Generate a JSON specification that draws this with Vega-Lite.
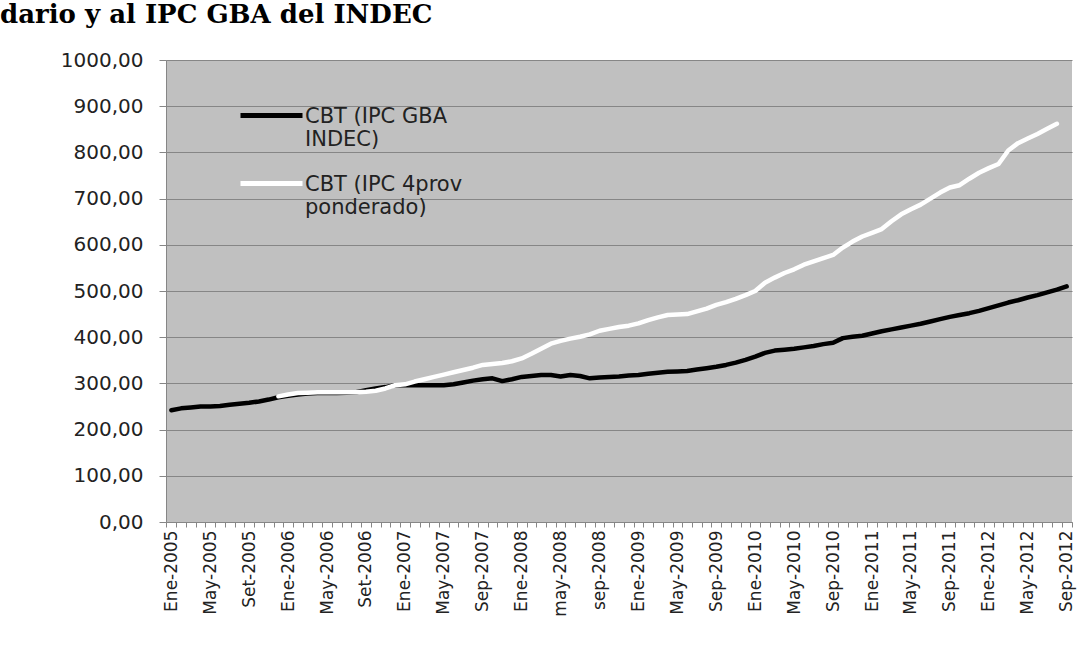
{
  "$schema": "https://vega.github.io/schema/vega-lite/v6.json",
  "width": 906,
  "height": 462,
  "autosize": {"type": "none"},
  "padding": {"left": 166, "top": 60, "right": 8, "bottom": 143},
  "background": "white",
  "title": {
    "text": "dario y al IPC GBA del INDEC",
    "anchor": "start",
    "frame": "group",
    "dx": -166,
    "offset": 22,
    "font": "DejaVu Serif",
    "fontSize": 26,
    "fontWeight": "bold",
    "color": "black"
  },
  "data": {
    "values": [
      {"m": "Ene-2005", "CBT (IPC GBA INDEC)": 242, "CBT (IPC 4prov ponderado)": null},
      {"m": "Feb-2005", "CBT (IPC GBA INDEC)": 246, "CBT (IPC 4prov ponderado)": null},
      {"m": "Mar-2005", "CBT (IPC GBA INDEC)": 248, "CBT (IPC 4prov ponderado)": null},
      {"m": "Abr-2005", "CBT (IPC GBA INDEC)": 250, "CBT (IPC 4prov ponderado)": null},
      {"m": "May-2005", "CBT (IPC GBA INDEC)": 250, "CBT (IPC 4prov ponderado)": null},
      {"m": "Jun-2005", "CBT (IPC GBA INDEC)": 251, "CBT (IPC 4prov ponderado)": null},
      {"m": "Jul-2005", "CBT (IPC GBA INDEC)": 254, "CBT (IPC 4prov ponderado)": null},
      {"m": "Ago-2005", "CBT (IPC GBA INDEC)": 256, "CBT (IPC 4prov ponderado)": null},
      {"m": "Set-2005", "CBT (IPC GBA INDEC)": 258, "CBT (IPC 4prov ponderado)": null},
      {"m": "Oct-2005", "CBT (IPC GBA INDEC)": 261, "CBT (IPC 4prov ponderado)": null},
      {"m": "Nov-2005", "CBT (IPC GBA INDEC)": 265, "CBT (IPC 4prov ponderado)": null},
      {"m": "Dic-2005", "CBT (IPC GBA INDEC)": 270, "CBT (IPC 4prov ponderado)": 272},
      {"m": "Ene-2006", "CBT (IPC GBA INDEC)": 273, "CBT (IPC 4prov ponderado)": 276},
      {"m": "Feb-2006", "CBT (IPC GBA INDEC)": 276, "CBT (IPC 4prov ponderado)": 279},
      {"m": "Mar-2006", "CBT (IPC GBA INDEC)": 278, "CBT (IPC 4prov ponderado)": 280},
      {"m": "Abr-2006", "CBT (IPC GBA INDEC)": 279, "CBT (IPC 4prov ponderado)": 281},
      {"m": "May-2006", "CBT (IPC GBA INDEC)": 279, "CBT (IPC 4prov ponderado)": 281},
      {"m": "Jun-2006", "CBT (IPC GBA INDEC)": 279, "CBT (IPC 4prov ponderado)": 281},
      {"m": "Jul-2006", "CBT (IPC GBA INDEC)": 280, "CBT (IPC 4prov ponderado)": 281},
      {"m": "Ago-2006", "CBT (IPC GBA INDEC)": 281, "CBT (IPC 4prov ponderado)": 281},
      {"m": "Set-2006", "CBT (IPC GBA INDEC)": 285, "CBT (IPC 4prov ponderado)": 282},
      {"m": "Oct-2006", "CBT (IPC GBA INDEC)": 289, "CBT (IPC 4prov ponderado)": 284},
      {"m": "Nov-2006", "CBT (IPC GBA INDEC)": 292, "CBT (IPC 4prov ponderado)": 289},
      {"m": "Dic-2006", "CBT (IPC GBA INDEC)": 296, "CBT (IPC 4prov ponderado)": 296},
      {"m": "Ene-2007", "CBT (IPC GBA INDEC)": 296, "CBT (IPC 4prov ponderado)": 298},
      {"m": "Feb-2007", "CBT (IPC GBA INDEC)": 296, "CBT (IPC 4prov ponderado)": 304},
      {"m": "Mar-2007", "CBT (IPC GBA INDEC)": 296, "CBT (IPC 4prov ponderado)": 309},
      {"m": "Abr-2007", "CBT (IPC GBA INDEC)": 296, "CBT (IPC 4prov ponderado)": 314},
      {"m": "May-2007", "CBT (IPC GBA INDEC)": 296, "CBT (IPC 4prov ponderado)": 319},
      {"m": "Jun-2007", "CBT (IPC GBA INDEC)": 298, "CBT (IPC 4prov ponderado)": 324},
      {"m": "Jul-2007", "CBT (IPC GBA INDEC)": 302, "CBT (IPC 4prov ponderado)": 329},
      {"m": "Ago-2007", "CBT (IPC GBA INDEC)": 306, "CBT (IPC 4prov ponderado)": 334},
      {"m": "Sep-2007", "CBT (IPC GBA INDEC)": 309, "CBT (IPC 4prov ponderado)": 340},
      {"m": "Oct-2007", "CBT (IPC GBA INDEC)": 311, "CBT (IPC 4prov ponderado)": 342},
      {"m": "Nov-2007", "CBT (IPC GBA INDEC)": 305, "CBT (IPC 4prov ponderado)": 344},
      {"m": "Dic-2007", "CBT (IPC GBA INDEC)": 309, "CBT (IPC 4prov ponderado)": 348},
      {"m": "Ene-2008", "CBT (IPC GBA INDEC)": 314, "CBT (IPC 4prov ponderado)": 354},
      {"m": "Feb-2008", "CBT (IPC GBA INDEC)": 316, "CBT (IPC 4prov ponderado)": 364},
      {"m": "Mar-2008", "CBT (IPC GBA INDEC)": 318, "CBT (IPC 4prov ponderado)": 375},
      {"m": "Abr-2008", "CBT (IPC GBA INDEC)": 318, "CBT (IPC 4prov ponderado)": 386},
      {"m": "may-2008", "CBT (IPC GBA INDEC)": 315, "CBT (IPC 4prov ponderado)": 392},
      {"m": "Jun-2008", "CBT (IPC GBA INDEC)": 318, "CBT (IPC 4prov ponderado)": 397},
      {"m": "Jul-2008", "CBT (IPC GBA INDEC)": 316, "CBT (IPC 4prov ponderado)": 401},
      {"m": "Ago-2008", "CBT (IPC GBA INDEC)": 311, "CBT (IPC 4prov ponderado)": 406},
      {"m": "sep-2008", "CBT (IPC GBA INDEC)": 313, "CBT (IPC 4prov ponderado)": 414},
      {"m": "Oct-2008", "CBT (IPC GBA INDEC)": 314, "CBT (IPC 4prov ponderado)": 418},
      {"m": "Nov-2008", "CBT (IPC GBA INDEC)": 315, "CBT (IPC 4prov ponderado)": 422},
      {"m": "Dic-2008", "CBT (IPC GBA INDEC)": 317, "CBT (IPC 4prov ponderado)": 425},
      {"m": "Ene-2009", "CBT (IPC GBA INDEC)": 318, "CBT (IPC 4prov ponderado)": 430},
      {"m": "Feb-2009", "CBT (IPC GBA INDEC)": 321, "CBT (IPC 4prov ponderado)": 437},
      {"m": "Mar-2009", "CBT (IPC GBA INDEC)": 323, "CBT (IPC 4prov ponderado)": 443},
      {"m": "Abr-2009", "CBT (IPC GBA INDEC)": 325, "CBT (IPC 4prov ponderado)": 448},
      {"m": "May-2009", "CBT (IPC GBA INDEC)": 326, "CBT (IPC 4prov ponderado)": 449},
      {"m": "Jun-2009", "CBT (IPC GBA INDEC)": 327, "CBT (IPC 4prov ponderado)": 450},
      {"m": "Jul-2009", "CBT (IPC GBA INDEC)": 330, "CBT (IPC 4prov ponderado)": 456},
      {"m": "Ago-2009", "CBT (IPC GBA INDEC)": 333, "CBT (IPC 4prov ponderado)": 462},
      {"m": "Sep-2009", "CBT (IPC GBA INDEC)": 336, "CBT (IPC 4prov ponderado)": 470},
      {"m": "Oct-2009", "CBT (IPC GBA INDEC)": 340, "CBT (IPC 4prov ponderado)": 476},
      {"m": "Nov-2009", "CBT (IPC GBA INDEC)": 345, "CBT (IPC 4prov ponderado)": 483},
      {"m": "Dic-2009", "CBT (IPC GBA INDEC)": 351, "CBT (IPC 4prov ponderado)": 491},
      {"m": "Ene-2010", "CBT (IPC GBA INDEC)": 358, "CBT (IPC 4prov ponderado)": 500},
      {"m": "Feb-2010", "CBT (IPC GBA INDEC)": 366, "CBT (IPC 4prov ponderado)": 518},
      {"m": "Mar-2010", "CBT (IPC GBA INDEC)": 371, "CBT (IPC 4prov ponderado)": 529},
      {"m": "Abr-2010", "CBT (IPC GBA INDEC)": 373, "CBT (IPC 4prov ponderado)": 539},
      {"m": "May-2010", "CBT (IPC GBA INDEC)": 375, "CBT (IPC 4prov ponderado)": 547},
      {"m": "Jun-2010", "CBT (IPC GBA INDEC)": 378, "CBT (IPC 4prov ponderado)": 557},
      {"m": "Jul-2010", "CBT (IPC GBA INDEC)": 381, "CBT (IPC 4prov ponderado)": 564},
      {"m": "Ago-2010", "CBT (IPC GBA INDEC)": 385, "CBT (IPC 4prov ponderado)": 571},
      {"m": "Sep-2010", "CBT (IPC GBA INDEC)": 388, "CBT (IPC 4prov ponderado)": 578},
      {"m": "Oct-2010", "CBT (IPC GBA INDEC)": 398, "CBT (IPC 4prov ponderado)": 594},
      {"m": "Nov-2010", "CBT (IPC GBA INDEC)": 401, "CBT (IPC 4prov ponderado)": 607},
      {"m": "Dic-2010", "CBT (IPC GBA INDEC)": 403, "CBT (IPC 4prov ponderado)": 618},
      {"m": "Ene-2011", "CBT (IPC GBA INDEC)": 408, "CBT (IPC 4prov ponderado)": 626},
      {"m": "Feb-2011", "CBT (IPC GBA INDEC)": 413, "CBT (IPC 4prov ponderado)": 634},
      {"m": "Mar-2011", "CBT (IPC GBA INDEC)": 417, "CBT (IPC 4prov ponderado)": 651},
      {"m": "Abr-2011", "CBT (IPC GBA INDEC)": 421, "CBT (IPC 4prov ponderado)": 666},
      {"m": "May-2011", "CBT (IPC GBA INDEC)": 425, "CBT (IPC 4prov ponderado)": 677},
      {"m": "Jun-2011", "CBT (IPC GBA INDEC)": 429, "CBT (IPC 4prov ponderado)": 687},
      {"m": "Jul-2011", "CBT (IPC GBA INDEC)": 434, "CBT (IPC 4prov ponderado)": 700},
      {"m": "Ago-2011", "CBT (IPC GBA INDEC)": 439, "CBT (IPC 4prov ponderado)": 713},
      {"m": "Sep-2011", "CBT (IPC GBA INDEC)": 444, "CBT (IPC 4prov ponderado)": 724},
      {"m": "Oct-2011", "CBT (IPC GBA INDEC)": 448, "CBT (IPC 4prov ponderado)": 729},
      {"m": "Nov-2011", "CBT (IPC GBA INDEC)": 452, "CBT (IPC 4prov ponderado)": 743},
      {"m": "Dic-2011", "CBT (IPC GBA INDEC)": 457, "CBT (IPC 4prov ponderado)": 756},
      {"m": "Ene-2012", "CBT (IPC GBA INDEC)": 463, "CBT (IPC 4prov ponderado)": 766},
      {"m": "Feb-2012", "CBT (IPC GBA INDEC)": 469, "CBT (IPC 4prov ponderado)": 775},
      {"m": "Mar-2012", "CBT (IPC GBA INDEC)": 475, "CBT (IPC 4prov ponderado)": 804},
      {"m": "Abr-2012", "CBT (IPC GBA INDEC)": 480, "CBT (IPC 4prov ponderado)": 820},
      {"m": "May-2012", "CBT (IPC GBA INDEC)": 486, "CBT (IPC 4prov ponderado)": 830},
      {"m": "Jun-2012", "CBT (IPC GBA INDEC)": 491, "CBT (IPC 4prov ponderado)": 840},
      {"m": "Jul-2012", "CBT (IPC GBA INDEC)": 497, "CBT (IPC 4prov ponderado)": 851},
      {"m": "Ago-2012", "CBT (IPC GBA INDEC)": 503, "CBT (IPC 4prov ponderado)": 862},
      {"m": "Sep-2012", "CBT (IPC GBA INDEC)": 510, "CBT (IPC 4prov ponderado)": null}
    ]
  },
  "transform": [
    {"fold": ["CBT (IPC GBA INDEC)", "CBT (IPC 4prov ponderado)"], "as": ["serie", "v"]},
    {"filter": "isValid(datum.v)"}
  ],
  "mark": {"type": "line", "strokeWidth": 4.5, "strokeCap": "round", "strokeJoin": "round"},
  "encoding": {
    "x": {
      "field": "m",
      "type": "ordinal",
      "sort": null,
      "bandPosition": 0.5,
      "scale": {"type": "band", "paddingInner": 0, "paddingOuter": 0.05},
      "axis": {
        "title": null,
        "labelAngle": -90,
        "labelExpr": "test(/^(Ene|May|may|Set|Sep|sep)-/, datum.value) ? datum.value : ''",
        "labelOverlap": false,
        "labelFont": "DejaVu Sans",
        "labelFontSize": 17,
        "labelColor": "#222222",
        "labelPadding": 3,
        "tickBand": "extent",
        "tickSize": 5,
        "tickColor": "#868686",
        "domainColor": "#868686",
        "grid": false
      }
    },
    "y": {
      "field": "v",
      "type": "quantitative",
      "scale": {"domain": [0, 1000], "nice": false},
      "axis": {
        "title": null,
        "values": [0, 100, 200, 300, 400, 500, 600, 700, 800, 900, 1000],
        "labelExpr": "replace(format(datum.value, '.2f'), '.', ',')",
        "labelFont": "DejaVu Sans",
        "labelFontSize": 20,
        "labelColor": "#222222",
        "labelPadding": 16,
        "tickSize": 7,
        "tickColor": "#868686",
        "domainColor": "#868686",
        "gridColor": "#868686",
        "gridWidth": 1.2,
        "gridOpacity": 1
      }
    },
    "color": {
      "field": "serie",
      "type": "nominal",
      "scale": {"domain": ["CBT (IPC GBA INDEC)", "CBT (IPC 4prov ponderado)"], "range": ["#000000", "#ffffff"]},
      "legend": {
        "title": null,
        "orient": "none",
        "legendX": 72,
        "legendY": 22,
        "padding": 0,
        "symbolType": "stroke",
        "symbolSize": 3844,
        "symbolStrokeWidth": 5,
        "labelOffset": 0,
        "labelFont": "DejaVu Sans",
        "labelFontSize": 21,
        "labelColor": "#222222",
        "labelLimit": 400,
        "labelBaseline": "alphabetic",
        "rowPadding": 0,
        "encoding": {"labels": {"dy": {"value": 7}}},
        "labelExpr": "datum.label == 'CBT (IPC GBA INDEC)' ? ['CBT (IPC GBA', 'INDEC)'] : ['CBT (IPC 4prov', 'ponderado)']"
      }
    }
  },
  "config": {
    "view": {"fill": "#c0c0c0", "stroke": null}
  }
}
